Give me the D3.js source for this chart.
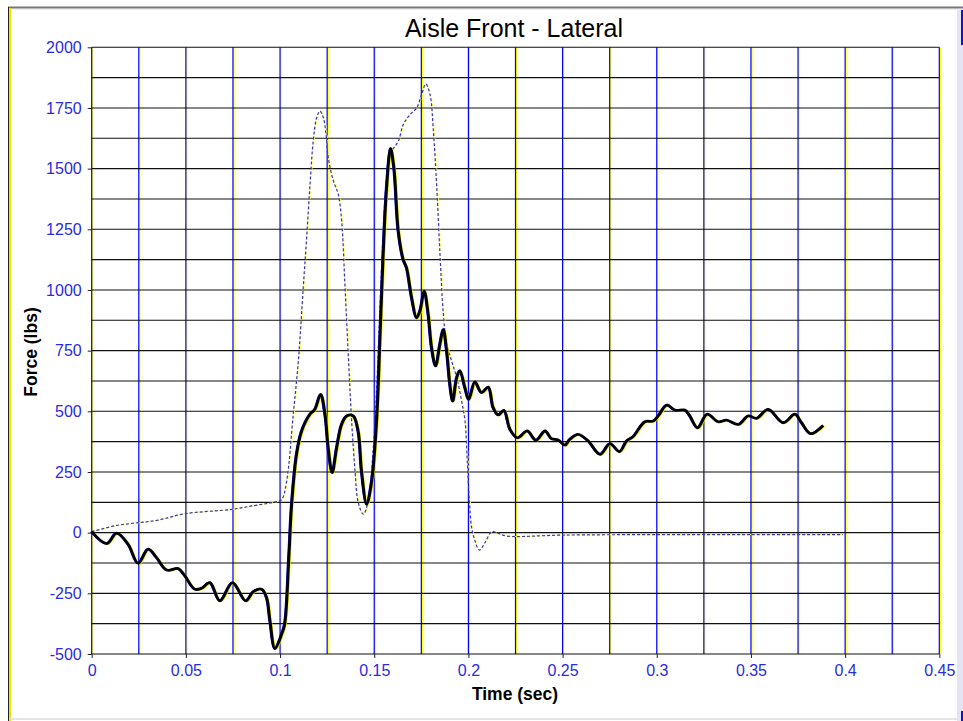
<!DOCTYPE html>
<html>
    <head>
        <meta charset="utf-8">
        <script src="https://d3js.org/d3.v7.min.js"></script>
        <style>
            body{margin:0;background:#fff;}
            text{font-family:Arial,"Liberation Sans",sans-serif;}
        </style>
    </head>
    <body>
        <script>
            // time (sec) and force (lbs)
            var solidT = [0,0.008,0.0133,0.0194,0.0247,0.030,0.0345,0.0398,0.046,0.0495,0.0548,0.0584,0.0628,0.0681,0.0748,0.0818,0.0858,0.0903,0.0929,0.0947,0.0973,0.1009,0.1025,0.1047,0.1062,0.1088,0.1115,0.1159,0.1185,0.1216,0.1239,0.1256,0.1277,0.1301,0.1327,0.1354,0.1389,0.1415,0.1433,0.146,0.1487,0.1513,0.1531,0.1548,0.1566,0.1587,0.1605,0.1628,0.1654,0.1672,0.1699,0.1725,0.1743,0.1766,0.1787,0.1805,0.1826,0.1849,0.1867,0.1885,0.1902,0.1917,0.1938,0.1955,0.1982,0.2002,0.2035,0.207,0.2106,0.2132,0.2159,0.2189,0.2221,0.226,0.2313,0.2359,0.2407,0.2442,0.2477,0.2513,0.2539,0.2583,0.2636,0.2699,0.2752,0.2803,0.284,0.2875,0.2937,0.2982,0.3008,0.3053,0.3097,0.315,0.3176,0.3217,0.3268,0.3327,0.3371,0.3433,0.3486,0.353,0.3592,0.3672,0.3734,0.3769,0.3817,0.3884];
            var solidF = [4,-45,-2,-48,-126,-68,-103,-154,-148,-178,-233,-229,-206,-281,-206,-281,-243,-233,-268,-364,-478,-418,-377,-103,117,323,419,488,508,570,488,350,247,350,446,481,481,419,254,117,213,460,803,1147,1421,1583,1503,1243,1126,1091,968,885,913,995,899,762,687,776,838,748,611,542,638,668,597,549,621,577,600,515,485,504,426,391,419,381,419,387,382,361,385,405,378,323,367,334,378,396,457,460,481,526,505,505,481,432,488,457,464,446,481,471,508,453,488,453,408,442];

            var dotT = [0,0.0133,0.0247,0.0354,0.0495,0.0743,0.085,0.0982,0.1009,0.1035,0.107,0.1097,0.1123,0.1141,0.1159,0.1176,0.1194,0.1212,0.123,0.1244,0.1256,0.1283,0.1309,0.1327,0.1345,0.1362,0.138,0.1398,0.1415,0.1442,0.1468,0.1495,0.1513,0.1531,0.1548,0.1566,0.1593,0.1628,0.1654,0.169,0.1725,0.1752,0.1773,0.1796,0.1814,0.1832,0.1849,0.1867,0.1885,0.1911,0.1938,0.1964,0.1982,0.1994,0.2005,0.2017,0.2035,0.2058,0.2088,0.2124,0.2159,0.2203,0.25,0.3,0.35,0.3987];
            var dotF = [4,30,41,52,78,96,110,128,137,213,488,707,1009,1215,1435,1613,1709,1737,1709,1641,1545,1449,1394,1284,1009,735,460,254,124,76,131,350,597,941,1243,1462,1572,1613,1682,1723,1750,1806,1849,1806,1654,1421,1147,899,776,707,638,542,460,295,131,21,-34,-72,-41,4,-3,-14,-10,-8,-8,-8];

            var yTicks = [-500,-250,0,250,500,750,1000,1250,1500,1750,2000];
            var yTickLabels = ["-500","-250","0","250","500","750","1000","1250","1500","1750","2000"];
            var yGrid = [-500,-375,-250,-125,0,125,250,375,500,625,750,875,1000,1125,1250,1375,1500,1625,1750,1875,2000];
            var xTicks = [0,0.05,0.1,0.15,0.2,0.25,0.3,0.35,0.4,0.45];
            var xTickLabels = ["0","0.05","0.1","0.15","0.2","0.25","0.3","0.35","0.4","0.45"];
            var xGrid = [0,0.025,0.05,0.075,0.1,0.125,0.15,0.175,0.2,0.225,0.25,0.275,0.3,0.325,0.35,0.375,0.4,0.425,0.45];

            var w = 963;
            var h = 721;
            var pL = 91.7, pR = 939.3, pT = 47.3, pB = 654;

            var xScale = d3.scaleLinear().domain([0,0.45]).range([pL,pR]);
            var yScale = d3.scaleLinear().domain([-500,2000]).range([pB,pT]);

            var svg = d3.select('body').append('svg').attr('width',w).attr('height',h);

            // window frame bits
            svg.append("rect").attr("x",957).attr("y",9).attr("width",6).attr("height",712).attr("fill","#e4e4f4");
            svg.append("line").attr("x1",8).attr("x2",963).attr("y1",7.5).attr("y2",7.5).attr("stroke","#777").attr("stroke-width",2);
            svg.append("line").attr("x1",8).attr("x2",963).attr("y1",9.5).attr("y2",9.5).attr("stroke","#eee").attr("stroke-width",1);
            svg.append("line").attr("x1",8.5).attr("x2",8.5).attr("y1",7).attr("y2",721).attr("stroke","#222").attr("stroke-width",1);
            svg.append("line").attr("x1",10).attr("x2",10).attr("y1",8).attr("y2",721).attr("stroke","#e8e800").attr("stroke-width",2);
            svg.append("line").attr("x1",9).attr("x2",957).attr("y1",719).attr("y2",719).attr("stroke","#ddd").attr("stroke-width",1.5);
            svg.append("line").attr("x1",962).attr("x2",962).attr("y1",10).attr("y2",45).attr("stroke","#1010e0").attr("stroke-width",2);
            svg.append("line").attr("x1",962).attr("x2",962).attr("y1",711).attr("y2",721).attr("stroke","#1010e0").attr("stroke-width",2);

            // grid
            svg.append("g").selectAll("line").data(xGrid).enter().append("line")
                .attr("x1",function(d){return xScale(d)+1;}).attr("x2",function(d){return xScale(d)+1;})
                .attr("y1",pT).attr("y2",pB).attr("stroke","#ffff00").attr("stroke-width",1.2);
            svg.append("g").selectAll("line").data(xGrid).enter().append("line")
                .attr("x1",function(d){return xScale(d);}).attr("x2",function(d){return xScale(d);})
                .attr("y1",pT).attr("y2",pB).attr("stroke","#0000ff").attr("stroke-width",1.2);
            svg.append("g").selectAll("line").data(yGrid).enter().append("line")
                .attr("x1",pL).attr("x2",pR)
                .attr("y1",function(d){return yScale(d);}).attr("y2",function(d){return yScale(d);})
                .attr("stroke","#111").attr("stroke-width",1.1);

            // axes
            var yAxis = d3.axisLeft(yScale).tickValues(yTicks).tickSize(4).tickPadding(6)
                .tickFormat(function(d,i){return yTickLabels[i];});
            var xAxis = d3.axisBottom(xScale).tickValues(xTicks).tickSize(4).tickPadding(7)
                .tickFormat(function(d,i){return xTickLabels[i];});
            var yG = svg.append("g").attr("transform","translate("+pL+",0)").call(yAxis);
            var xG = svg.append("g").attr("transform","translate(0,"+pB+")").call(xAxis);
            [yG,xG].forEach(function(g){
                g.select(".domain").remove();
                g.selectAll("line").attr("stroke","#222");
                g.selectAll("text").attr("fill","#2b2be0").style("font-size","16px").style("font-family","Arial, 'Liberation Sans', sans-serif");
            });

            // series
            var line = d3.line().curve(d3.curveCatmullRom)
                .x(function(d){return xScale(d[0]);}).y(function(d){return yScale(d[1]);});
            var solid = solidT.map(function(t,i){return [t,solidF[i]];});
            var dotted = dotT.map(function(t,i){return [t,dotF[i]];});

            svg.append("path").attr("d",line(dotted)).attr("fill","none").attr("stroke","#ffff40")
                .attr("stroke-width",1).attr("stroke-dasharray","3,2").attr("transform","translate(1,0)");
            svg.append("path").attr("d",line(dotted)).attr("fill","none").attr("stroke","#3838a8")
                .attr("stroke-width",1.2).attr("stroke-dasharray","3,2");

            svg.append("path").attr("d",line(solid)).attr("fill","none").attr("stroke","#e8e800")
                .attr("stroke-width",1.2).attr("stroke-opacity",0.8).attr("transform","translate(1.5,0.8)");
            svg.append("path").attr("d",line(solid)).attr("fill","none").attr("stroke","#1010d0")
                .attr("stroke-width",1.6).attr("transform","translate(-1,0)");
            svg.append("path").attr("d",line(solid)).attr("fill","none").attr("stroke","#000")
                .attr("stroke-width",2.8);

            // titles
            svg.append("text").attr("x",514).attr("y",37).attr("text-anchor","middle")
                .style("font-size","25px").text("Aisle Front - Lateral");
            svg.append("text").attr("x",515).attr("y",700).attr("text-anchor","middle")
                .style("font-size","17.5px").style("font-weight","bold").text("Time (sec)");
            svg.append("text").attr("transform","translate(37,352) rotate(-90)").attr("text-anchor","middle")
                .style("font-size","17.5px").style("font-weight","bold").text("Force (lbs)");
        </script>
    </body>
</html>
